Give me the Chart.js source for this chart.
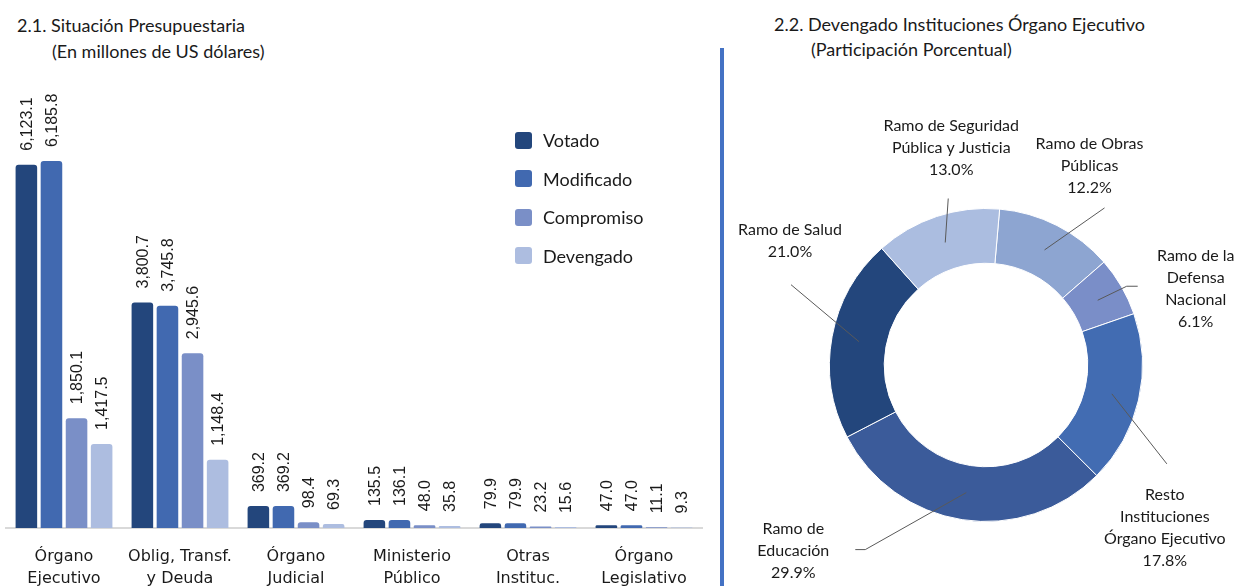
<!DOCTYPE html>
<html>
<head>
<meta charset="utf-8">
<script src="https://cdn.jsdelivr.net/npm/chart.js@4"></script>
<style>
  body { margin: 0; background: #fff; }
  #page { position: relative; width: 1238px; height: 586px; overflow: hidden; font-family: Lato, sans-serif; color: #1a1a1a; }
  .ttl { position: absolute; font-size: 18px; line-height: 20px; white-space: nowrap; }
  #barBox { position: absolute; left: 0; top: 0; width: 712px; height: 586px; }
  #pieBox { position: absolute; left: 722px; top: 0; width: 516px; height: 586px; }
  #divider { position: absolute; left: 720px; top: 48px; width: 4px; height: 540px; background: #4472c4; }
  #legend { position: absolute; left: 515px; top: 121px; }
  .lg { display: flex; align-items: center; height: 38.5px; font-size: 18px; }
  .lg span { display: inline-block; width: 17px; height: 17px; border-radius: 3px; margin-right: 11px; }
</style>
</head>
<body>
<div id="page">
  <div class="ttl" style="left:17px;top:15px">2.1. Situación Presupuestaria</div>
  <div class="ttl" style="left:52px;top:41px">(En millones de US dólares)</div>
  <div class="ttl" style="left:774px;top:14px">2.2. Devengado Instituciones Órgano Ejecutivo</div>
  <div class="ttl" style="left:811px;top:39px">(Participación Porcentual)</div>
  <div id="barBox"><canvas id="barras"></canvas></div>
  <div id="legend"></div>
  <div id="divider"></div>
  <div id="pieBox"><canvas id="dona"></canvas></div>
</div>
<script>
// Datos - grafico 2.1
var categorias = [['Órgano', 'Ejecutivo'], ['Oblig, Transf.', 'y Deuda'], ['Órgano', 'Judicial'],
                  ['Ministerio', 'Público'], ['Otras', 'Instituc.'], ['Órgano', 'Legislativo']];
var votado = [6123.1, 3800.7, 369.2, 135.5, 79.9, 47.0];
var modificado = [6185.8, 3745.8, 369.2, 136.1, 79.9, 47.0];
var compromiso = [1850.1, 2945.6, 98.4, 48.0, 23.2, 11.1];
var devengado = [1417.5, 1148.4, 69.3, 35.8, 15.6, 9.3];

// Datos - grafico 2.2 (en orden horario desde arriba)
var ramos = [['Ramo de Obras', 'Públicas'], ['Ramo de la', 'Defensa', 'Nacional'],
             ['Resto', 'Instituciones', 'Órgano Ejecutivo'], ['Ramo de', 'Educación'],
             ['Ramo de Salud'], ['Ramo de Seguridad', 'Pública y Justicia']];
var participacion = [12.2, 6.1, 17.8, 29.9, 21.0, 13.0];

// estilos
var coloresBarras = ['#23467c', '#4169b0', '#7a8fc7', '#adbde0'];
var coloresDona = ['#8da5d1', '#7a8ec8', '#426cb2', '#3b5b9a', '#23467c', '#abbde0'];
// posicion de etiquetas de la dona: fin de linea [dx,dy] desde el centro del arco, codo, centro del texto
var guias = [
  { fin: [60, -42], codo: 0, txt: [-15, -42] },
  { fin: [29, -14], codo: 11, txt: [58, 3] },
  { fin: [55, 70], codo: 0, txt: [-2, 64] },
  { fin: [-101, 57], codo: -10, txt: [-62, 1] },
  { fin: [-68, -57], codo: 0, txt: [-1, -44] },
  { fin: [3, -44], codo: 0, txt: [3, -51] }
];

function fmt(v) {
  return v.toLocaleString('en-US', { minimumFractionDigits: 1, maximumFractionDigits: 1 });
}

var valoresBarras = {
  id: 'valoresBarras',
  afterDatasetsDraw: function (chart) {
    var ctx = chart.ctx;
    ctx.save();
    ctx.font = '16px "Liberation Sans Narrow", "Liberation Sans", sans-serif';
    ctx.fillStyle = '#1a1a1a';
    ctx.textAlign = 'left';
    ctx.textBaseline = 'middle';
    chart.data.datasets.forEach(function (ds, i) {
      chart.getDatasetMeta(i).data.forEach(function (bar, j) {
        ctx.save();
        ctx.translate(bar.x + 1, bar.y - 14);
        ctx.rotate(-Math.PI / 2);
        ctx.fillText(fmt(ds.data[j]), 0, 0);
        ctx.restore();
      });
    });
    ctx.restore();
  }
};

var etiquetasDona = {
  id: 'etiquetasDona',
  afterDatasetsDraw: function (chart) {
    var ctx = chart.ctx;
    var ds = chart.data.datasets[0];
    ctx.save();
    ctx.font = '16px Lato, sans-serif';
    ctx.fillStyle = '#1a1a1a';
    ctx.textAlign = 'center';
    ctx.textBaseline = 'middle';
    chart.getDatasetMeta(0).data.forEach(function (arc, i) {
      var p = arc.getCenterPoint();
      var g = guias[i];
      var ex = p.x + g.fin[0], ey = p.y + g.fin[1];
      ctx.strokeStyle = '#595959';
      ctx.lineWidth = 1;
      ctx.beginPath();
      ctx.moveTo(p.x, p.y);
      ctx.lineTo(ex, ey);
      if (g.codo) { ex += g.codo; ctx.lineTo(ex, ey); }
      ctx.stroke();
      var lineas = chart.data.labels[i].concat([ds.data[i].toFixed(1) + '%']);
      var cy = ey + g.txt[1] - (lineas.length - 1) * 22 / 2;
      lineas.forEach(function (t, k) {
        ctx.fillText(t, ex + g.txt[0], cy + k * 22);
      });
    });
    ctx.restore();
  }
};

var series = [['Votado', votado], ['Modificado', modificado], ['Compromiso', compromiso], ['Devengado', devengado]];

var graficoBarras = new Chart(document.getElementById('barras').getContext('2d'), {
  type: 'bar',
  data: {
    labels: categorias,
    datasets: series.map(function (s, i) {
      return {
        label: s[0],
        data: s[1],
        backgroundColor: coloresBarras[i],
        borderRadius: 3,
        categoryPercentage: 0.865,
        barPercentage: 0.86
      };
    })
  },
  options: {
    responsive: true,
    maintainAspectRatio: false,
    animation: false,
    layout: { padding: { left: 6, right: 10, top: 70, bottom: 0 } },
    plugins: { legend: { display: false }, title: { display: false }, tooltip: { enabled: false } },
    scales: {
      x: {
        grid: { display: false },
        border: { display: true, color: '#d9d9d9', width: 2 },
        ticks: {
          color: '#1a1a1a',
          padding: 10,
          maxRotation: 0,
          autoSkip: false,
          font: { family: '"DejaVu Sans", sans-serif', size: 16, lineHeight: 1.375 }
        },
        afterFit: function (scale) { scale.height = 58; }
      },
      y: { display: false, min: 0, max: 7720 }
    }
  },
  plugins: [valoresBarras]
});

// leyenda
var leg = document.getElementById('legend');
graficoBarras.data.datasets.forEach(function (ds) {
  var d = document.createElement('div');
  d.className = 'lg';
  d.innerHTML = '<span style="background:' + ds.backgroundColor + '"></span>' + ds.label;
  leg.appendChild(d);
});

new Chart(document.getElementById('dona').getContext('2d'), {
  type: 'doughnut',
  data: {
    labels: ramos,
    datasets: [{
      data: participacion,
      backgroundColor: coloresDona,
      borderColor: '#ffffff',
      borderWidth: 1
    }]
  },
  options: {
    responsive: true,
    maintainAspectRatio: false,
    animation: false,
    cutout: '65%',
    rotation: 5,
    layout: { padding: { left: 107, right: 95, top: 208, bottom: 64 } },
    plugins: { legend: { display: false }, tooltip: { enabled: false } }
  },
  plugins: [etiquetasDona]
});
</script>
</body>
</html>
